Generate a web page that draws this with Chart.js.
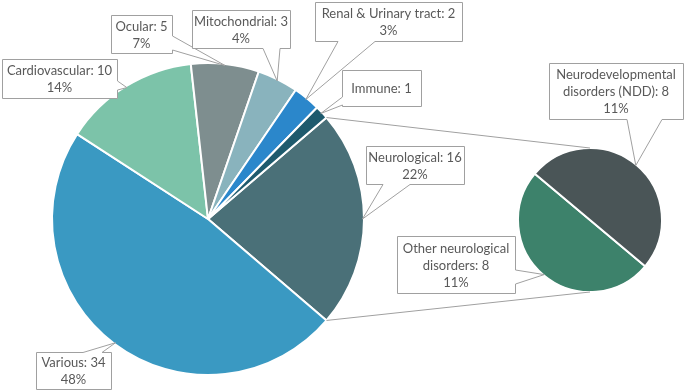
<!DOCTYPE html>
<html>
<head>
<meta charset="utf-8">
<script src="https://cdn.jsdelivr.net/npm/chart.js@4.4.1/dist/chart.umd.min.js"></script>
<style>
  html, body { margin: 0; padding: 0; background: #fff; }
  #wrap { position: relative; width: 685px; height: 392px; }
  #wrap canvas { position: absolute; left: 0; top: 0; }
</style>
</head>
<body>
<div id="wrap">
  <canvas id="mainPie" width="685" height="392"></canvas>
  <canvas id="subPie" width="685" height="392"></canvas>
</div>
<script>
// data
const mainCategories = ['Neurological', 'Various', 'Cardiovascular', 'Ocular', 'Mitochondrial', 'Renal & Urinary tract', 'Immune'];
const mainValues = [16, 34, 10, 5, 3, 2, 1];
const subCategories = ['Other neurological disorders', 'Neurodevelopmental disorders (NDD)'];
const subValues = [8, 8];

const mainColors = ['#4a7078', '#3a99c2', '#7cc3a9', '#7e8e8f', '#89b3bd', '#2b87cb', '#1e5a6d'];
const subColors = ['#3d826b', '#4a5557'];

const total = mainValues.reduce((a, b) => a + b, 0);
const FONT = '13px Lato, "Open Sans", sans-serif';
const TEXT = '#595959';
const LINE = '#a0a0a0';

// callout boxes (label layout only); br = words on first line, pct = show share
const callouts = {
  'Neurological':          { x: 366, y: 146, w: 98,  h: 38, edge: 'b', b1: 383, b2: 410 },
  'Various':               { x: 36,  y: 352, w: 75,  h: 37, edge: 't', b1: 83,  b2: 102 },
  'Cardiovascular':        { x: 2,   y: 59,  w: 115, h: 39, edge: 'r', b1: 81,  b2: 90 },
  'Ocular':                { x: 111, y: 15,  w: 61,  h: 38, edge: 'r', b1: 36,  b2: 50 },
  'Mitochondrial':         { x: 192, y: 10,  w: 98,  h: 38, edge: 'b', b1: 263, b2: 280 },
  'Renal & Urinary tract': { x: 315, y: 2,   w: 147, h: 39, edge: 'b', b1: 338, b2: 375 },
  'Immune':                { x: 342, y: 70,  w: 79,  h: 36, edge: 'l', b1: 97,  b2: 105, pct: false },
  'Other neurological disorders':       { x: 397, y: 236, w: 118, h: 57, edge: 'r', b1: 270, b2: 284, br: 2 },
  'Neurodevelopmental disorders (NDD)': { x: 549, y: 63,  w: 134, h: 56, edge: 'b', b1: 627, b2: 662, br: 1 }
};

function pctOf(v) {
  return Math.round(v / total * 100);
}

function calloutLines(name, value, c, pct) {
  const txt = name + ': ' + value;
  let lines = [txt];
  if (c.br) {
    const words = txt.split(' ');
    lines = [words.slice(0, c.br).join(' '), words.slice(c.br).join(' ')];
  }
  if (c.pct !== false) lines.push(pct + '%');
  return lines;
}

function drawCallout(ctx, c, ax, ay, lines) {
  const x = c.x + 0.5, y = c.y + 0.5, r = x + c.w, b = y + c.h;
  ctx.beginPath();
  ctx.moveTo(x, y);
  if (c.edge === 't') { ctx.lineTo(c.b1, y); ctx.lineTo(ax, ay); ctx.lineTo(c.b2, y); }
  ctx.lineTo(r, y);
  if (c.edge === 'r') { ctx.lineTo(r, c.b1); ctx.lineTo(ax, ay); ctx.lineTo(r, c.b2); }
  ctx.lineTo(r, b);
  if (c.edge === 'b') { ctx.lineTo(c.b2, b); ctx.lineTo(ax, ay); ctx.lineTo(c.b1, b); }
  ctx.lineTo(x, b);
  if (c.edge === 'l') { ctx.lineTo(x, c.b2); ctx.lineTo(ax, ay); ctx.lineTo(x, c.b1); }
  ctx.closePath();
  ctx.fillStyle = '#fff';
  ctx.fill();
  ctx.strokeStyle = LINE;
  ctx.lineWidth = 1;
  ctx.stroke();

  ctx.fillStyle = TEXT;
  ctx.font = FONT;
  ctx.textAlign = 'center';
  ctx.textBaseline = 'middle';
  const cx = c.x + c.w / 2, cy = c.y + c.h / 2 + 1;
  const lh = 17;
  lines.forEach((l, i) => {
    ctx.fillText(l, cx, cy + (i - (lines.length - 1) / 2) * lh);
  });
}

function edgePoint(arc, ang, k) {
  return [arc.x + Math.cos(ang) * arc.outerRadius * k, arc.y + Math.sin(ang) * arc.outerRadius * k];
}

let mainChart;

const annotations = {
  id: 'annotations',
  afterDraw(chart) {
    const ctx = chart.ctx;
    const mainArcs = mainChart.getDatasetMeta(0).data;
    const subArcs = chart.getDatasetMeta(0).data;
    const split = mainArcs[0];
    const sub = subArcs[0];

    // pie-of-pie connector lines
    ctx.save();
    ctx.strokeStyle = LINE;
    ctx.lineWidth = 1;
    const p1 = edgePoint(split, split.startAngle, 1);
    const p2 = edgePoint(split, split.endAngle, 1);
    ctx.beginPath();
    ctx.moveTo(p1[0], p1[1]);
    ctx.lineTo(sub.x, sub.y - sub.outerRadius);
    ctx.moveTo(p2[0], p2[1]);
    ctx.lineTo(sub.x, sub.y + sub.outerRadius);
    ctx.stroke();

    // the split slice shows the sum of its parts' rounded shares
    const subPcts = subValues.map(pctOf);
    const mainPcts = mainValues.map(pctOf);
    mainPcts[0] = subPcts.reduce((a, b) => a + b, 0);

    const all = [
      [mainCategories, mainValues, mainArcs, mainPcts],
      [subCategories, subValues, subArcs, subPcts]
    ];
    all.forEach(([cats, vals, arcs, pcts]) => {
      cats.forEach((name, i) => {
        const c = callouts[name];
        const a = arcs[i];
        const mid = (a.startAngle + a.endAngle) / 2;
        const p = edgePoint(a, mid, 0.99);
        drawCallout(ctx, c, p[0], p[1], calloutLines(name, vals[i], c, pcts[i]));
      });
    });
    ctx.restore();
  }
};

mainChart = new Chart(document.getElementById('mainPie'), {
  type: 'pie',
  data: {
    labels: mainCategories,
    datasets: [{
      data: mainValues,
      backgroundColor: mainColors,
      borderColor: '#ffffff',
      borderWidth: 2,
      hoverOffset: 0,
      offset: 0
    }]
  },
  options: {
    responsive: false,
    devicePixelRatio: 1,
    animation: false,
    rotation: 90 - 180 * mainValues[0] / total,
    layout: { padding: { left: 51, right: 320, top: 62, bottom: 16 } },
    plugins: { legend: { display: false }, tooltip: { enabled: false } }
  }
});

new Chart(document.getElementById('subPie'), {
  type: 'pie',
  data: {
    labels: subCategories,
    datasets: [{
      data: subValues,
      backgroundColor: subColors,
      borderColor: '#ffffff',
      borderWidth: 2,
      hoverOffset: 0,
      offset: 0
    }]
  },
  options: {
    responsive: false,
    devicePixelRatio: 1,
    animation: false,
    rotation: 130,
    layout: { padding: { left: 517, right: 22, top: 147, bottom: 99 } },
    plugins: { legend: { display: false }, tooltip: { enabled: false } }
  },
  plugins: [annotations]
});
</script>
</body>
</html>
